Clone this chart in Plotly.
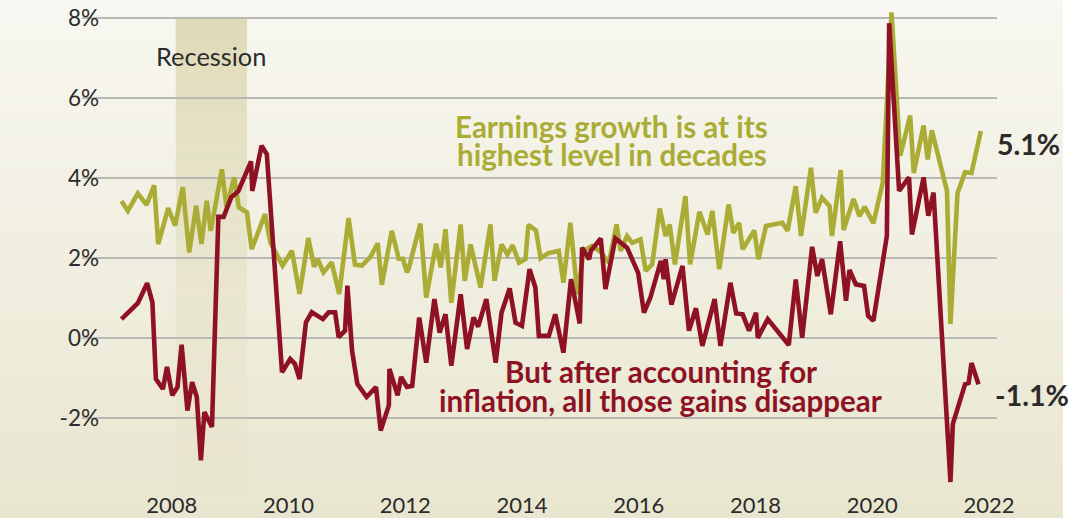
import plotly.graph_objects as go

# ---------------- data ----------------
nominal_dates = [
    2007.14, 2007.25, 2007.42, 2007.57, 2007.70, 2007.77, 2007.94, 2008.06, 2008.19, 2008.30,
    2008.42, 2008.51, 2008.60, 2008.67, 2008.86, 2008.94, 2009.07, 2009.15, 2009.29, 2009.37,
    2009.60, 2009.69, 2009.90, 2010.06, 2010.19, 2010.34, 2010.44, 2010.50, 2010.60, 2010.74,
    2010.87, 2011.03, 2011.14, 2011.26, 2011.40, 2011.53, 2011.60, 2011.77, 2011.89, 2011.96,
    2012.03, 2012.06, 2012.26, 2012.36, 2012.53, 2012.61, 2012.69, 2012.79, 2012.95, 2013.02,
    2013.12, 2013.29, 2013.46, 2013.53, 2013.65, 2013.75, 2013.84, 2013.95, 2014.06, 2014.11,
    2014.24, 2014.32, 2014.45, 2014.63, 2014.71, 2014.83, 2014.95, 2015.06, 2015.20, 2015.35,
    2015.49, 2015.62, 2015.69, 2015.80, 2015.89, 2016.03, 2016.12, 2016.23, 2016.36, 2016.46,
    2016.53, 2016.62, 2016.80, 2016.88, 2017.04, 2017.18, 2017.26, 2017.38, 2017.54, 2017.62,
    2017.72, 2017.78, 2017.98, 2018.05, 2018.18, 2018.46, 2018.55, 2018.69, 2018.78, 2018.95,
    2019.03, 2019.14, 2019.27, 2019.31, 2019.46, 2019.51, 2019.68, 2019.78, 2019.87, 2020.02,
    2020.18, 2020.33, 2020.48, 2020.65, 2020.71, 2020.88, 2020.95, 2021.02, 2021.28, 2021.34,
    2021.46, 2021.59, 2021.70, 2021.86,
]
nominal_growth = [
    3.43, 3.18, 3.62, 3.33, 3.82, 2.35, 3.25, 2.81, 3.77, 2.14,
    3.31, 2.35, 3.43, 2.68, 4.22, 3.27, 4.02, 3.27, 3.14, 2.22,
    3.10, 2.39, 1.81, 2.18, 1.10, 2.50, 1.78, 1.98, 1.64, 1.89,
    1.10, 3.00, 1.83, 1.81, 2.02, 2.37, 1.33, 2.68, 1.98, 1.98,
    1.64, 1.74, 2.86, 1.01, 2.36, 1.76, 2.72, 0.88, 2.84, 1.43,
    2.34, 1.26, 2.84, 1.43, 2.34, 2.09, 2.32, 1.88, 1.97, 2.83,
    2.69, 1.99, 2.12, 2.18, 1.38, 2.88, 1.09, 2.18, 2.30, 2.15,
    1.88, 2.84, 2.18, 2.55, 2.38, 2.47, 1.68, 1.84, 3.24, 2.55,
    2.84, 1.84, 3.55, 1.84, 3.16, 2.59, 3.18, 1.72, 3.34, 2.63,
    2.88, 2.22, 2.69, 1.97, 2.80, 2.88, 2.68, 3.80, 2.55, 4.26,
    3.13, 3.51, 3.30, 2.55, 4.20, 2.70, 3.48, 3.05, 3.28, 2.87,
    3.89, 8.15, 4.56, 5.57, 4.13, 5.32, 4.47, 5.20, 3.68, 0.35,
    3.62, 4.15, 4.13, 5.18,
]

real_dates = [
    2007.14, 2007.42, 2007.58, 2007.67, 2007.73, 2007.85, 2007.92, 2008.01, 2008.10, 2008.17,
    2008.27, 2008.35, 2008.43, 2008.50, 2008.56, 2008.69, 2008.80, 2008.89, 2009.02, 2009.14,
    2009.36, 2009.38, 2009.54, 2009.63, 2009.89, 2010.03, 2010.11, 2010.19, 2010.30, 2010.40,
    2010.59, 2010.69, 2010.80, 2010.86, 2010.97, 2011.01, 2011.09, 2011.18, 2011.34, 2011.50,
    2011.58, 2011.72, 2011.73, 2011.87, 2011.93, 2012.03, 2012.12, 2012.24, 2012.36, 2012.50,
    2012.59, 2012.69, 2012.79, 2012.95, 2013.06, 2013.17, 2013.25, 2013.39, 2013.55, 2013.65,
    2013.79, 2013.89, 2014.00, 2014.13, 2014.23, 2014.29, 2014.46, 2014.57, 2014.71, 2014.84,
    2014.99, 2015.03, 2015.15, 2015.18, 2015.35, 2015.43, 2015.60, 2015.80, 2015.99, 2016.09,
    2016.20, 2016.38, 2016.43, 2016.46, 2016.56, 2016.75, 2016.86, 2016.98, 2017.09, 2017.30,
    2017.40, 2017.57, 2017.67, 2017.78, 2017.89, 2018.01, 2018.04, 2018.21, 2018.57, 2018.69,
    2018.80, 2018.97, 2019.06, 2019.14, 2019.29, 2019.45, 2019.55, 2019.61, 2019.72, 2019.86,
    2019.93, 2020.02, 2020.25, 2020.29, 2020.46, 2020.63, 2020.68, 2020.88, 2020.96, 2021.05,
    2021.34, 2021.38, 2021.59, 2021.65, 2021.70, 2021.82,
]
real_growth = [
    0.47, 0.87, 1.37, 0.89, -1.03, -1.28, -0.73, -1.44, -1.23, -0.17,
    -1.82, -1.11, -1.48, -3.07, -1.86, -2.23, 3.03, 3.03, 3.52, 3.67,
    4.42, 3.68, 4.81, 4.60, -0.86, -0.53, -0.65, -1.03, 0.39, 0.64,
    0.47, 0.64, 0.64, 0.02, 0.18, 1.31, -0.32, -1.15, -1.48, -1.23,
    -2.32, -1.69, -0.78, -1.44, -0.98, -1.23, -1.20, 0.51, -0.62, 0.97,
    0.13, 0.59, -0.70, 1.09, -0.28, 0.51, 0.28, 0.97, -0.62, 0.63,
    1.24, 0.38, 0.30, 1.72, 1.26, 0.05, 0.05, 0.59, -0.37, 1.47,
    0.36, 2.26, 1.97, 2.18, 2.49, 1.22, 2.49, 2.26, 1.63, 0.63,
    1.01, 1.93, 1.47, 1.97, 0.83, 1.80, 0.18, 0.74, -0.20, 0.97,
    -0.20, 1.38, 0.61, 0.59, 0.18, 0.63, 0.00, 0.47, -0.18, 1.46,
    0.00, 2.28, 1.55, 1.97, 0.59, 2.42, 0.93, 1.70, 1.34, 1.30,
    0.55, 0.43, 2.55, 7.88, 3.68, 4.02, 2.59, 4.02, 3.06, 3.64,
    -3.61, -2.16, -1.16, -1.13, -0.63, -1.16,
]

x_tick_values = [2008, 2010, 2012, 2014, 2016, 2018, 2020, 2022]
x_tick_labels = ["2008", "2010", "2012", "2014", "2016", "2018", "2020", "2022"]
y_tick_values = [-2, 0, 2, 4, 6, 8]
y_tick_labels = ["-2%", "0%", "2%", "4%", "6%", "8%"]

recession_start = 2008.07
recession_end = 2009.29

nominal_text = ["Earnings growth is at its", "highest level in decades"]
real_text = ["But after accounting for", "inflation, all those gains disappear"]
nominal_last_label = "5.1%"
real_last_label = "-1.1%"

# ---------------- style ----------------
GREEN = "#abac35"
RED = "#8e1223"
DARK = "#2b2b2b"
FONT = "Lato"

W, H = 1088, 518
L, R, T, B = 82, 91, 5, 28
X_RANGE = [2006.464, 2022.137]
Y_RANGE = [-3.81, 8.336]

fig = go.Figure()

fig.add_trace(go.Scatter(x=nominal_dates, y=nominal_growth, mode="lines",
                         line=dict(color=GREEN, width=4.6), hoverinfo="skip"))
fig.add_trace(go.Scatter(x=real_dates, y=real_growth, mode="lines",
                         line=dict(color=RED, width=4.6), hoverinfo="skip"))

shapes = []
# background gradient (paper area up to the chart's right edge)
pw = W - L - R
ph = H - T - B
x0p = -L / pw
x1p = (1063 - L) / pw
y_top = 1 + T / ph
y_bot = -B / ph
top_c = (248, 247, 241)
bot_c = (233, 230, 207)
n = 40
for i in range(n):
    f = (i + 0.5) / n
    c = tuple(round(top_c[k] + (bot_c[k] - top_c[k]) * f) for k in range(3))
    ya = y_top - (y_top - y_bot) * i / n
    yb = y_top - (y_top - y_bot) * (i + 1) / n
    shapes.append(dict(type="rect", xref="paper", yref="paper", x0=x0p, x1=x1p,
                       y0=yb - 0.002, y1=ya, layer="below", line=dict(width=0),
                       fillcolor="rgb(%d,%d,%d)" % c))

# recession band fading toward the bottom
m = 30
band_top, band_bot = 8.0, Y_RANGE[0]
for i in range(m):
    ya = band_top - (band_top - band_bot) * i / m
    yb = band_top - (band_top - band_bot) * (i + 1) / m
    f = (i + 0.5) / m
    a = 0.46 * (1 - f) ** 1.6 + 0.03
    shapes.append(dict(type="rect", xref="x", yref="y", x0=recession_start, x1=recession_end,
                       y0=yb, y1=ya, layer="below", line=dict(width=0),
                       fillcolor="rgba(196,188,122,%.3f)" % a))

TXT = 29.5
annotations = [
    dict(text="Recession", x=(recession_start + recession_end) / 2, y=7.05, xref="x", yref="y",
         showarrow=False, font=dict(family=FONT, size=25.4, color=DARK), xanchor="center", yanchor="middle"),
    dict(text="<b>%s</b>" % nominal_text[0], x=2015.535, y=5.30, xref="x", yref="y",
         showarrow=False, font=dict(family=FONT, size=TXT, color=GREEN), xanchor="center", yanchor="middle"),
    dict(text="<b>%s</b>" % nominal_text[1], x=2015.535, y=4.60, xref="x", yref="y",
         showarrow=False, font=dict(family=FONT, size=TXT, color=GREEN), xanchor="center", yanchor="middle"),
    dict(text="<b>%s</b>" % real_text[0], x=2016.38, y=-0.84, xref="x", yref="y",
         showarrow=False, font=dict(family=FONT, size=TXT, color=RED), xanchor="center", yanchor="middle"),
    dict(text="<b>%s</b>" % real_text[1], x=2016.38, y=-1.56, xref="x", yref="y",
         showarrow=False, font=dict(family=FONT, size=TXT, color=RED), xanchor="center", yanchor="middle"),
    dict(text="<b>%s</b>" % nominal_last_label, x=(995 - L) / pw, y=4.86, xref="paper", yref="y",
         showarrow=False, font=dict(family=FONT, size=28.5, color=DARK), xanchor="left", yanchor="middle"),
    dict(text="<b>%s</b>" % real_last_label, x=(993 - L) / pw, y=-1.42, xref="paper", yref="y",
         showarrow=False, font=dict(family=FONT, size=28.5, color=DARK), xanchor="left", yanchor="middle"),
]

fig.update_layout(
    width=W, height=H,
    margin=dict(l=L, r=R, t=T, b=B, pad=0, autoexpand=False),
    paper_bgcolor="white",
    plot_bgcolor="rgba(0,0,0,0)",
    showlegend=False,
    shapes=shapes,
    annotations=annotations,
    font=dict(family=FONT, color=DARK),
    xaxis=dict(range=X_RANGE, showgrid=False, zeroline=False, showline=False, automargin=False,
               tickmode="array", tickvals=x_tick_values, ticktext=x_tick_labels,
               ticks="", ticklabelstandoff=0,
               tickfont=dict(family=FONT, size=22, color=DARK), fixedrange=True),
    yaxis=dict(range=Y_RANGE, showgrid=True, gridcolor="#b9b8b4", gridwidth=1.5,
               zeroline=False, showline=False, automargin=False,
               tickmode="array", tickvals=y_tick_values, ticktext=y_tick_labels,
               ticks="", ticklabelstandoff=-18,
               tickfont=dict(family=FONT, size=22.5, color=DARK), fixedrange=True),
)

fig.write_html("out.html", config={"displayModeBar": False},
               post_script="document.body.style.margin='0px';document.body.style.overflow='hidden';")
